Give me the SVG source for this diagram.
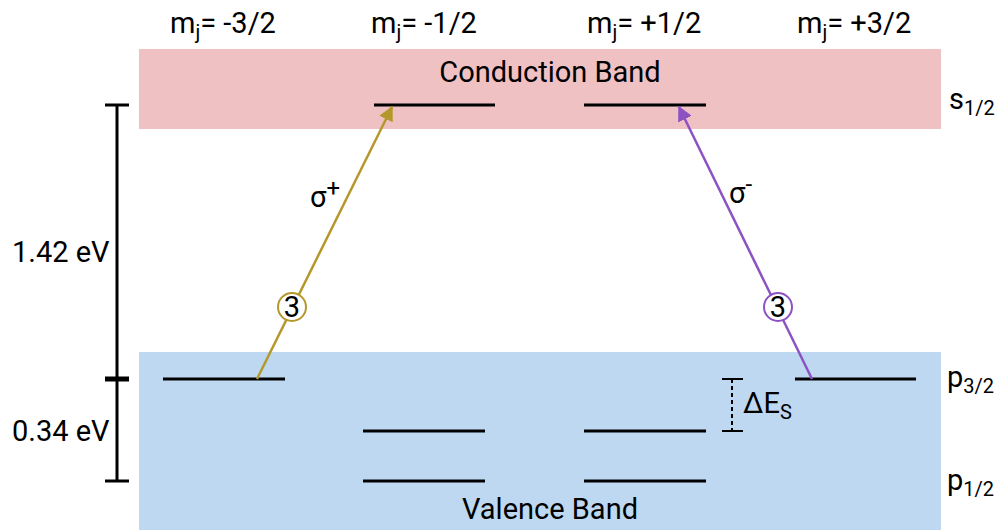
<svg xmlns="http://www.w3.org/2000/svg" width="1001" height="530" viewBox="0 0 1001 530">
<style>
text{font-family:Roboto,"Liberation Sans",sans-serif;fill:#000;}
.t{font-size:29px;}
.lvl{stroke:#000;stroke-width:3;}
.bar{stroke:#000;stroke-width:3;fill:none;}
.sub{font-size:20px;}
.sup{font-size:24px;}
</style>
<defs>
<marker id="ag" viewBox="0 0 10 10" refX="9" refY="5" markerWidth="6" markerHeight="6" markerUnits="strokeWidth" orient="auto"><path d="M0,0 L10,5 L0,10 z" fill="#b5982b"/></marker>
<marker id="ap" viewBox="0 0 10 10" refX="9" refY="5" markerWidth="6" markerHeight="6" markerUnits="strokeWidth" orient="auto"><path d="M0,0 L10,5 L0,10 z" fill="#8c52c4"/></marker>
</defs>
<rect width="1001" height="530" fill="#fff"/>
<g id="conduction-band">
<rect x="139" y="49" width="802" height="80" fill="#efc1c3"/>
<text class="t" x="550" y="82" text-anchor="middle">Conduction Band</text>
</g>
<g id="valence-band">
<rect x="139" y="352" width="802" height="178" fill="#bed8f2"/>
<text class="t" x="550" y="519" text-anchor="middle">Valence Band</text>
</g>
<g id="mj-labels">
<text class="t" x="170" y="33">m<tspan class="sub" dy="6">j</tspan><tspan dy="-6">= -3/2</tspan></text>
<text class="t" x="371" y="33">m<tspan class="sub" dy="6">j</tspan><tspan dy="-6">= -1/2</tspan></text>
<text class="t" x="587" y="33">m<tspan class="sub" dy="6">j</tspan><tspan dy="-6">= +1/2</tspan></text>
<text class="t" x="797" y="33">m<tspan class="sub" dy="6">j</tspan><tspan dy="-6">= +3/2</tspan></text>
</g>
<g id="level-cb-m12"><line class="lvl" x1="374" y1="105" x2="495" y2="105"/></g>
<g id="level-cb-p12"><line class="lvl" x1="584" y1="105" x2="706" y2="105"/></g>
<g id="level-hh-m32"><line class="lvl" x1="163" y1="379" x2="285" y2="379"/></g>
<g id="level-hh-p32"><line class="lvl" x1="795" y1="379" x2="916" y2="379"/></g>
<g id="level-lh-m12"><line class="lvl" x1="363" y1="431" x2="485" y2="431"/></g>
<g id="level-lh-p12"><line class="lvl" x1="584" y1="431" x2="706" y2="431"/></g>
<g id="level-so-m12"><line class="lvl" x1="363" y1="481" x2="485" y2="481"/></g>
<g id="level-so-p12"><line class="lvl" x1="584" y1="481" x2="706" y2="481"/></g>
<g id="state-labels">
<text class="t" x="949" y="109">s<tspan class="sub" dy="6">1/2</tspan></text>
<text class="t" x="947" y="387">p<tspan class="sub" dy="6">3/2</tspan></text>
<text class="t" x="947" y="490">p<tspan class="sub" dy="6">1/2</tspan></text>
</g>
<g id="energy-scale">
<line class="bar" x1="117" y1="105" x2="117" y2="481"/>
<line class="bar" x1="105" y1="105" x2="129" y2="105"/>
<line x1="105" y1="379" x2="129" y2="379" stroke="#000" stroke-width="5"/>
<line class="bar" x1="105" y1="481" x2="129" y2="481"/>
<text class="t" x="12" y="262">1.42 eV</text>
<text class="t" x="12" y="441">0.34 eV</text>
</g>
<g id="spin-orbit-split">
<line x1="732" y1="379" x2="732" y2="431" stroke="#000" stroke-width="2" stroke-dasharray="4,3"/>
<line x1="722" y1="379" x2="743" y2="379" stroke="#000" stroke-width="2"/>
<line x1="722" y1="431" x2="743" y2="431" stroke="#000" stroke-width="2"/>
<text class="t" x="743" y="413">ΔE<tspan class="sub" dy="6">S</tspan></text>
</g>
<g id="connectors">
<line x1="257" y1="379" x2="392" y2="107" stroke="#b5982b" stroke-width="2.5" marker-end="url(#ag)"/>
<line x1="812" y1="379" x2="679" y2="107" stroke="#8c52c4" stroke-width="2.5" marker-end="url(#ap)"/>
</g>
<g id="sigma-plus-label">
<circle cx="292" cy="307" r="14" fill="#fff" stroke="#b5982b" stroke-width="2"/>
<text class="t" x="292" y="317" text-anchor="middle">3</text>
<text class="t" x="310" y="207">σ<tspan class="sup" dy="-11">+</tspan></text>
</g>
<g id="sigma-minus-label">
<circle cx="778" cy="307" r="14" fill="#fff" stroke="#8c52c4" stroke-width="2"/>
<text class="t" x="778" y="317" text-anchor="middle">3</text>
<text class="t" x="729" y="203">σ<tspan class="sup" dy="-11">-</tspan></text>
</g>
</svg>
